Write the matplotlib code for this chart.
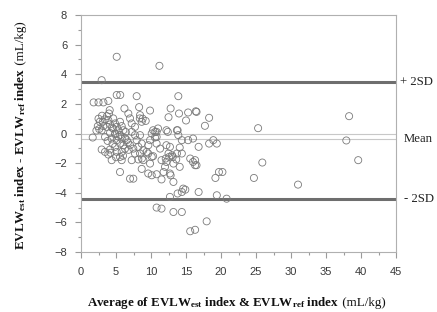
import matplotlib
matplotlib.use("Agg")
import matplotlib.pyplot as plt
from matplotlib.ticker import MultipleLocator
import matplotlib.transforms as mtransforms

# Data: average (x) and difference (y), mL/kg
avg = [2.95, 5.1, 11.2,
       1.8, 2.5, 3.2, 3.9, 5.1, 5.6, 7.95, 13.9,
       6.2, 8.3, 9.86, 12.8, 14.0, 15.3, 16.4, 12.5, 15.0, 18.3, 17.7, 25.3, 16.5,
       4.1, 4.0, 3.7, 3.4, 3.1, 3.2, 2.95, 3.67, 4.14, 1.67, 3.43,
       4.6, 4.86, 4.6, 5.1, 5.33, 5.57, 5.81, 6.05,
       4.14, 4.86, 4.38, 5.1, 5.81,
       5.57, 6.05, 6.29, 6.53,
       4.14, 4.86, 5.1, 5.81, 5.57, 5.81,
       7.0, 7.24, 7.71, 6.76, 8.43, 8.67,
       7.24, 7.71, 7.95, 8.43,
       7.0, 7.47, 8.19, 8.67,
       7.71, 7.24, 8.19, 8.43,
       10.3, 10.8, 11.0, 9.86, 9.62, 10.8, 11.3, 9.38, 10.3, 11.5, 12.2,
       2.95, 3.43, 4.38, 3.9,
       5.57, 7.0, 7.47, 8.67, 9.6, 10.1,
       8.4, 10.6, 10.8, 10.1, 9.24, 8.81,
       12.2, 13.7, 13.9, 14.4, 16.0, 12.2, 12.7, 16.8, 8.9, 9.6, 10.57,
       15.3, 12.4, 13.8,
       10.1, 8.7, 8.9, 9.86, 12.5, 13.0, 13.7, 14.4, 15.6, 16.0, 16.3,
       12.0, 13.2, 14.1, 10.8, 11.8, 12.7, 11.5, 12.8, 13.2,
       14.6, 14.4, 13.8, 12.7, 16.8,
       10.8, 11.5, 13.2, 14.4, 15.6, 16.3,
       18.3, 18.9, 19.4, 16.3, 16.5, 25.9, 19.7, 20.2, 19.2, 24.7, 19.4, 20.8, 17.95,
       12.1, 12.6, 13.1, 13.6, 14.1, 14.9,
       38.3, 37.9, 39.6, 31.0,
       2.5, 2.7, 2.4, 2.6, 3.0, 3.9, 4.4, 4.9, 5.3, 5.6,
       6.3, 6.7, 6.8, 4.5, 5.0, 6.0, 6.4, 2.2, 3.8, 4.2]
diff = [3.6, 5.18, 4.57,
        2.1, 2.1, 2.1, 2.2, 2.6, 2.6, 2.52, 2.52,
        1.69, 1.78, 1.55, 1.69, 1.35, 1.42, 1.5, 1.1, 0.88, 1.06, 0.52, 0.36, 1.46,
        1.58, 1.35, 1.17, 0.95, 0.79, 0.5, 0.22, 0.45, 0.61, -0.27, -0.23,
        1.02, 0.68, 0.34, 0.45, 0.22, 0.79, 0.5, 0.22,
        0.04, -0.05, -0.34, -0.45, -0.34,
        -0.68, -0.79, -1.02, -0.45,
        -1.08, -0.9, -1.24, -1.24, -1.58, -1.8,
        1.02, 0.68, 0.45, 1.35, 1.24, 0.79,
        0.11, -0.11, -0.45, -0.11,
        -0.79, -1.02, -0.9, -0.68,
        -1.35, -1.8, -1.75, -1.35,
        0.22, 0.11, 0.34, -0.45, -0.79, -0.68, -1.02, -1.24, -1.53, -1.8, -1.92,
        -1.08, -1.24, -1.8, -1.42,
        -2.6, -3.05, -3.05, -2.39, -2.7, -2.82,
        1.02, 0.11, -0.23, 0.0, 0.85, 1.0,
        0.22, 0.22, -0.11, -0.45, -0.34, -0.79, -0.9, -0.9, -1.13, -1.35, -0.27,
        -0.45, 0.11, 0.22,
        -1.58, -1.69, -1.8, -2.03, -1.35, -1.47, -1.35, -1.35, -1.69, -1.92, -2.14,
        -2.25, -2.03, -2.25, -2.75, -2.6, -2.7, -3.1, -2.82, -3.27,
        -3.72, -3.95, -4.05, -4.28, -3.95,
        -5.0, -5.07, -5.3, -5.3, -6.6, -6.5,
        -0.68, -0.45, -0.68, -1.8, -2.14, -1.96, -2.6, -2.6, -3.0, -3.0, -4.17, -4.4, -5.93,
        -1.69, -1.58, -1.58, -1.75, -0.95, -3.79,
        1.17, -0.47, -1.8, -3.45,
        1.0, 0.8, 0.5, 0.3, 1.2, 0.9, 0.4, 0.0, -0.2, -0.1,
        -0.3, -0.6, -1.1, -0.7, -1.6, -1.5, 0.1, 0.2, -0.5, -1.3]

mean_diff = -0.34
upper_loa = 3.45
lower_loa = -4.4
ref_labels = ["+ 2SD", "Mean", "- 2SD"]

x_ticks = [0, 5, 10, 15, 20, 25, 30, 35, 40, 45]
y_ticks = [-8, -6, -4, -2, 0, 2, 4, 6, 8]

xlabel_main = r"Average of EVLW$_{\mathbf{est}}$ index & EVLW$_{\mathbf{ref}}$ index"
ylabel_main = r"EVLW$_{\mathbf{est}}$ index - EVLW$_{\mathbf{ref}}$ index"
unit_label = " (mL/kg)"

plt.rcParams['mathtext.fontset'] = 'custom'
plt.rcParams['mathtext.rm'] = 'Liberation Serif'
plt.rcParams['mathtext.bf'] = 'Liberation Serif:bold'
plt.rcParams['mathtext.it'] = 'Liberation Serif:italic'

fig = plt.figure(figsize=(4.37, 3.12), dpi=100)
ax = fig.add_axes([0.1854, 0.1923, 0.7208, 0.7596])

ax.axhline(0, color='#c8c8c8', lw=0.8, zorder=1)
ax.axhline(mean_diff, color='#c8c8c8', lw=0.8, zorder=1)
ax.axhline(upper_loa, color='#6e6e6e', lw=2.2, zorder=1)
ax.axhline(lower_loa, color='#6e6e6e', lw=2.2, zorder=1)

ax.scatter(avg, diff, s=26, facecolors='none', edgecolors='#7a7a7a', linewidths=0.6, zorder=2)

ax.set_xlim(0, 45)
ax.set_ylim(-8, 8)
ax.set_xticks(x_ticks)
ax.set_yticks(y_ticks)
ax.xaxis.set_minor_locator(MultipleLocator(2.5))
ax.yaxis.set_minor_locator(MultipleLocator(1))
ax.tick_params(which='major', length=4, width=0.8, color='#9a9a9a', direction='out',
               labelsize=8, labelcolor='#3a3a3a')
ax.tick_params(axis='x', which='major', pad=7)
ax.tick_params(axis='y', which='major', pad=6)
ax.tick_params(which='minor', length=2.5, width=0.8, color='#9a9a9a', direction='out')
for lab in ax.get_xticklabels() + ax.get_yticklabels():
    lab.set_fontfamily('Liberation Sans')
for sp in ax.spines.values():
    sp.set_color('#b0b0b0')
    sp.set_linewidth(0.8)

trans = mtransforms.blended_transform_factory(ax.transAxes, ax.transData)
for yv, lab in zip([upper_loa, mean_diff, lower_loa], ref_labels):
    ax.text(1.012 if lab == "+ 2SD" else 1.025, yv, lab, transform=trans, ha='left', va='center',
            fontsize=9.2, fontfamily='Liberation Serif', color='#222222')

# axis labels: bold part + regular unit part, placed next to each other
fs = 9.4
fig.canvas.draw()
r = fig.canvas.get_renderer()
tmp_main = fig.text(0, 0, xlabel_main, fontsize=fs, fontweight='bold', fontfamily='Liberation Serif')
tmp_unit = fig.text(0, 0, unit_label, fontsize=fs, fontfamily='Liberation Serif')
w_main = tmp_main.get_window_extent(r).width
w_unit = tmp_unit.get_window_extent(r).width
tmp_main.remove(); tmp_unit.remove()
tmp_main = fig.text(0, 0, ylabel_main, fontsize=fs, fontweight='bold', fontfamily='Liberation Serif')
wy_main = tmp_main.get_window_extent(r).width
tmp_main.remove()

W, H = fig.bbox.width, fig.bbox.height
cx, cy = 236, 312 - 306  # x label center / baseline (pixels from bottom-left)
x0 = cx - (w_main + w_unit) / 2
fig.text(x0 / W, cy / H, xlabel_main, fontsize=fs, fontweight='bold', fontfamily='Liberation Serif',
         ha='left', va='baseline', color='#111111')
fig.text((x0 + w_main) / W, cy / H, unit_label, fontsize=fs, fontfamily='Liberation Serif',
         ha='left', va='baseline', color='#111111')

ycx, ycy = 24, 312 - 136   # baseline x, center y
y0 = ycy - (wy_main + w_unit) / 2
fig.text(ycx / W, y0 / H, ylabel_main, fontsize=fs, fontweight='bold', fontfamily='Liberation Serif',
         ha='left', va='baseline', rotation=90, rotation_mode='anchor', color='#111111')
fig.text(ycx / W, (y0 + wy_main) / H, unit_label, fontsize=fs, fontfamily='Liberation Serif',
         ha='left', va='baseline', rotation=90, rotation_mode='anchor', color='#111111')

fig.savefig('out.png', dpi=100)
